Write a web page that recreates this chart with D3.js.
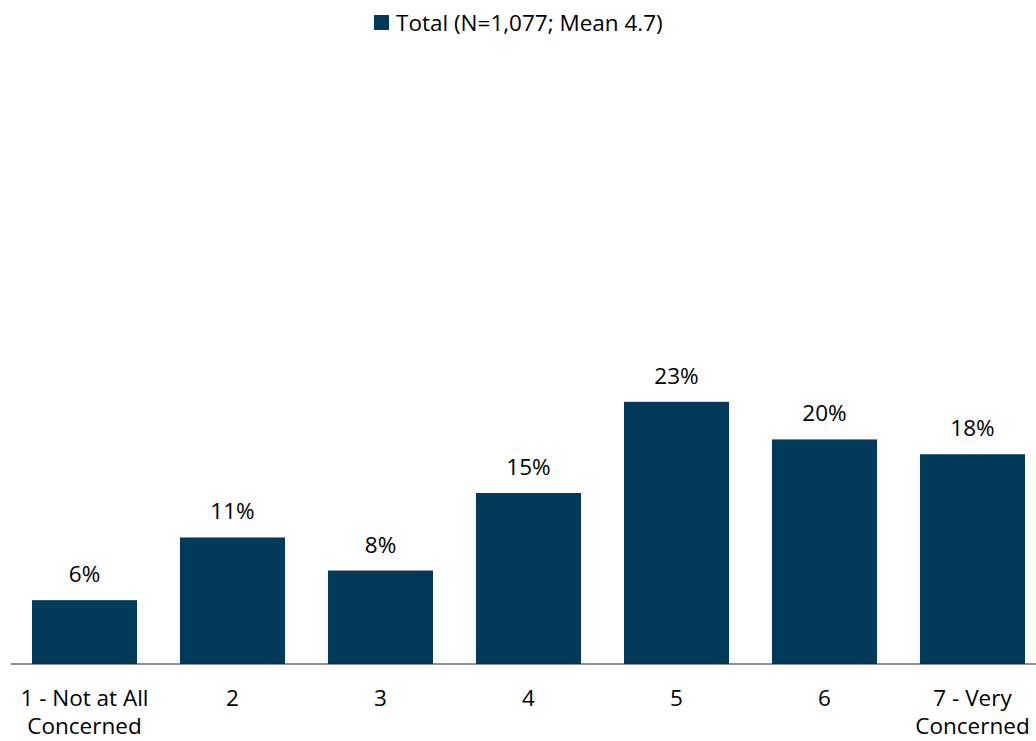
<!DOCTYPE html>
<html><head><meta charset="utf-8">
<script src="https://cdn.jsdelivr.net/npm/d3@7"></script>
<style>html,body{margin:0;padding:0;background:#fff;}svg{display:block;}</style>
</head><body>
<svg id="chart" width="1036" height="741"></svg>
<script>
const categories = [["1 - Not at All","Concerned"],["2"],["3"],["4"],["5"],["6"],["7 - Very","Concerned"]];
const values = [5.6, 11.1, 8.2, 15.0, 23.0, 19.7, 18.4];
const seriesName = "Total (N=1,077; Mean 4.7)";

const svg = d3.select("#chart");
const font = "'Open Sans', sans-serif";
const fs = 22.5;
const color = "#033a5a";
const keys = categories.map((c,i)=>String(i));
const x = d3.scaleBand().domain(keys).range([10.5, 1046.5]).paddingInner(0.29).paddingOuter(0.145);
const y = d3.scaleLinear().domain([0, 50]).range([664, 94]);

svg.selectAll("rect.bar").data(values).join("rect").attr("class","bar")
  .attr("x",(d,i)=>x(keys[i])).attr("width",x.bandwidth())
  .attr("y",d=>y(d)).attr("height",d=>y(0)-y(d)).attr("fill",color);

svg.selectAll("text.val").data(values).join("text").attr("class","val")
  .attr("x",(d,i)=>x(keys[i])+x.bandwidth()/2).attr("y",d=>y(d)-18)
  .attr("text-anchor","middle").attr("font-family",font).attr("font-size",fs).attr("fill","#000")
  .text(d=>Math.round(d)+"%");

const axis = svg.append("g").attr("transform",`translate(0,${y(0)})`)
  .call(d3.axisBottom(x).tickSize(0).tickFormat(""));
axis.select(".domain").attr("d","M11,0H1036").attr("stroke","#222").attr("stroke-width",1);

const labels = svg.selectAll("text.cat").data(categories).join("text").attr("class","cat")
  .attr("text-anchor","middle").attr("font-family",font).attr("font-size",fs).attr("fill","#000");
labels.each(function(lines,i){
  const t = d3.select(this);
  lines.forEach((l,j)=>t.append("tspan").attr("x",x(keys[i])+x.bandwidth()/2).attr("y",706+j*28).text(l));
});

const leg = svg.append("g");
leg.append("rect").attr("x",374).attr("y",15).attr("width",15).attr("height",15).attr("fill",color);
leg.append("text").attr("x",396).attr("y",31).attr("font-family",font).attr("font-size",fs).attr("fill","#000").text(seriesName);
</script>
</body></html>
